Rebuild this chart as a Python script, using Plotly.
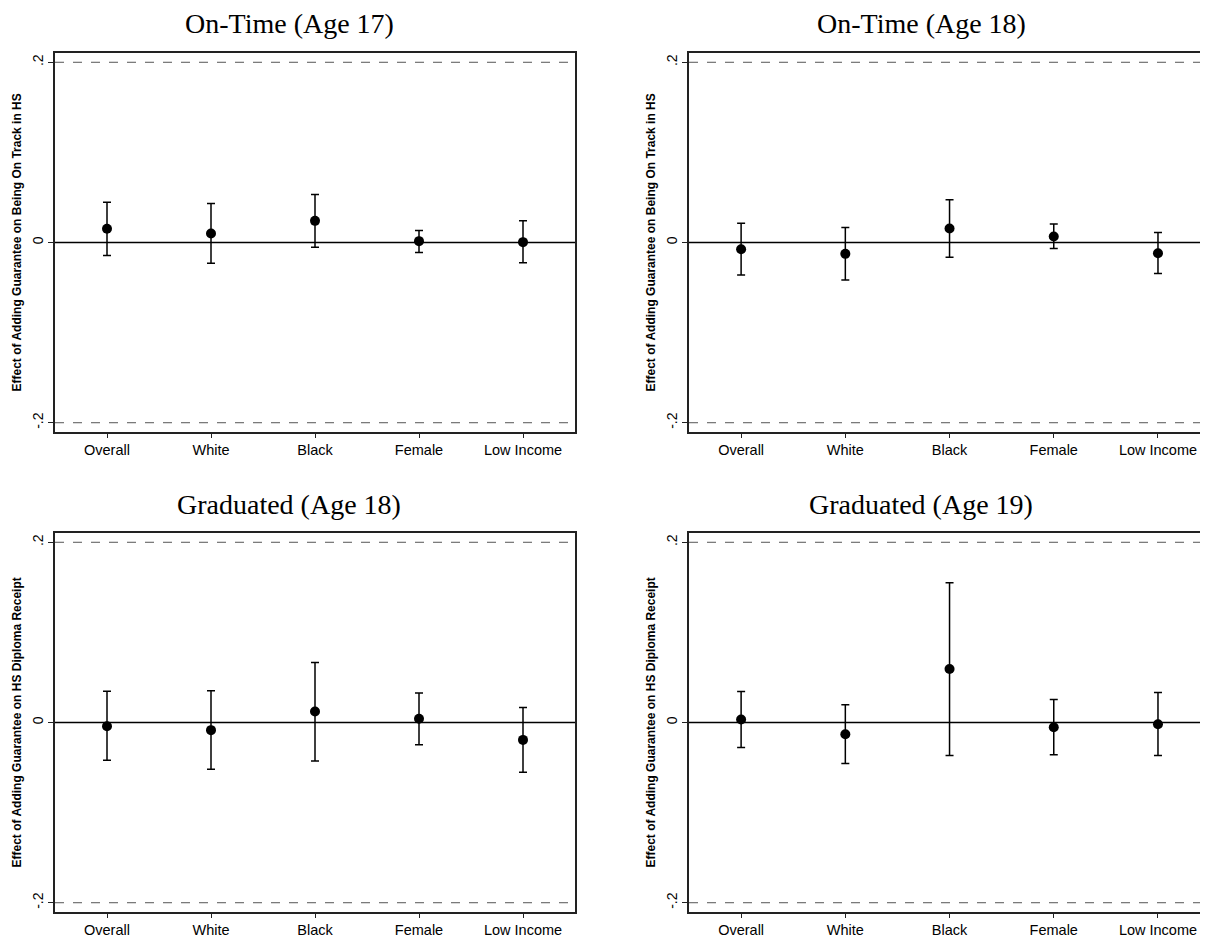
import plotly.graph_objects as go

categories = ["Overall", "White", "Black", "Female", "Low Income"]
cat_pos = [1, 2, 3, 4, 5]

panel_titles = ["On-Time (Age 17)", "On-Time (Age 18)", "Graduated (Age 18)", "Graduated (Age 19)"]
ytitles = ["Effect of Adding Guarantee on Being On Track in HS",
           "Effect of Adding Guarantee on Being On Track in HS",
           "Effect of Adding Guarantee on HS Diploma Receipt",
           "Effect of Adding Guarantee on HS Diploma Receipt"]

# point estimates and confidence bounds
est_ontime17 = [0.0152, 0.0100, 0.0240, 0.0015, 0.0004]
lo_ontime17 = [-0.0144, -0.0230, -0.0052, -0.0110, -0.0226]
hi_ontime17 = [0.0448, 0.0433, 0.0533, 0.0133, 0.0240]

est_ontime18 = [-0.0074, -0.0126, 0.0156, 0.0067, -0.0119]
lo_ontime18 = [-0.0360, -0.0415, -0.0163, -0.0067, -0.0344]
hi_ontime18 = [0.0215, 0.0167, 0.0474, 0.0204, 0.0111]

est_grad18 = [-0.0041, -0.0085, 0.0122, 0.0041, -0.0193]
lo_grad18 = [-0.0419, -0.0519, -0.0426, -0.0248, -0.0552]
hi_grad18 = [0.0348, 0.0352, 0.0667, 0.0326, 0.0167]

est_grad19 = [0.0033, -0.0130, 0.0593, -0.0052, -0.0019]
lo_grad19 = [-0.0278, -0.0456, -0.0367, -0.0359, -0.0367]
hi_grad19 = [0.0344, 0.0196, 0.1552, 0.0256, 0.0333]

ytick_vals = [-0.2, 0, 0.2]
ytick_text = ["-.2", "0", ".2"]

panels = [
    (est_ontime17, lo_ontime17, hi_ontime17),
    (est_ontime18, lo_ontime18, hi_ontime18),
    (est_grad18, lo_grad18, hi_grad18),
    (est_grad19, lo_grad19, hi_grad19),
]

# the page body adds an 8px margin; the figure is sized so it ends at the window edge
OFF = 8
W, H = 1200, 932
# plot-area pixel boxes in page coordinates (left, right, top, bottom)
boxes = [(55, 575, 53, 432), (689, 1208, 53, 432), (55, 575, 533, 912), (689, 1208, 533, 912)]
xranges = [[0.5, 5.5], [0.5, 5.48], [0.5, 5.5], [0.5, 5.48]]
title_x = [289, 921, 289, 921]
title_y = [23, 23, 505, 505]
ytitle_x = [16, 650, 16, 650]


def px(v):
    return (v - OFF) / W


def py(v):
    return 1 - (v - OFF) / H


fig = go.Figure()
layout = dict(
    width=W, height=H, margin=dict(l=0, r=0, t=0, b=0),
    paper_bgcolor="white", plot_bgcolor="white", showlegend=False,
)
shapes = []
annotations = []

for i, (est, lo, hi) in enumerate(panels):
    n = "" if i == 0 else str(i + 1)
    xa, ya = "x" + n, "y" + n
    l, r, t, b = boxes[i]
    right_panel = i in (1, 3)
    fig.add_trace(go.Scatter(
        x=cat_pos, y=est, mode="markers",
        marker=dict(color="black", size=10),
        error_y=dict(type="data", symmetric=False,
                     array=[h - e for h, e in zip(hi, est)],
                     arrayminus=[e - lo_ for e, lo_ in zip(est, lo)],
                     color="black", thickness=1.5, width=4),
        xaxis=xa, yaxis=ya, hoverinfo="skip", cliponaxis=False,
    ))
    layout["xaxis" + n] = dict(
        domain=[max(px(l), 0), min(px(r), 1)], range=xranges[i], anchor=ya,
        tickmode="array", tickvals=cat_pos, ticktext=categories,
        ticks="outside", ticklen=4, tickwidth=1, tickcolor="#222",
        showline=True, linecolor="#222", linewidth=1.5, mirror=True,
        showgrid=False, zeroline=False,
        tickfont=dict(family="Liberation Sans, Arial", size=14.5, color="black"),
    )
    layout["yaxis" + n] = dict(
        domain=[py(b), py(t)], range=[-0.2103, 0.2103], anchor=xa,
        tickmode="array", tickvals=ytick_vals, ticktext=ytick_text, tickangle=-90,
        ticks="outside", ticklen=5, tickwidth=1, tickcolor="#222",
        showline=True, linecolor="#222", linewidth=1.5, mirror=not right_panel,
        showgrid=False, zeroline=False,
        tickfont=dict(family="Liberation Sans, Arial", size=14, color="black"),
    )
    # reference lines
    for yv, dash, col, w in [(0.2, "dash", "#555", 1), (-0.2, "dash", "#555", 1), (0, "solid", "black", 1.5)]:
        shapes.append(dict(type="line", xref=xa + " domain", yref=ya,
                           x0=0, x1=1, y0=yv, y1=yv,
                           line=dict(color=col, width=w, dash=dash), layer="below"))
    annotations.append(dict(text=panel_titles[i], xref="paper", yref="paper",
                            x=px(title_x[i]), y=py(title_y[i]),
                            xanchor="center", yanchor="middle", showarrow=False,
                            font=dict(family="Liberation Serif, serif", size=28, color="black")))
    annotations.append(dict(text="<b>" + ytitles[i] + "</b>", xref="paper", yref="paper",
                            x=px(ytitle_x[i]), y=py((t + b) / 2), textangle=-90,
                            xanchor="center", yanchor="middle", showarrow=False,
                            font=dict(family="Liberation Sans, Arial", size=12, color="black")))

layout["shapes"] = shapes
layout["annotations"] = annotations
fig.update_layout(**layout)
fig.write_html("out.html")
